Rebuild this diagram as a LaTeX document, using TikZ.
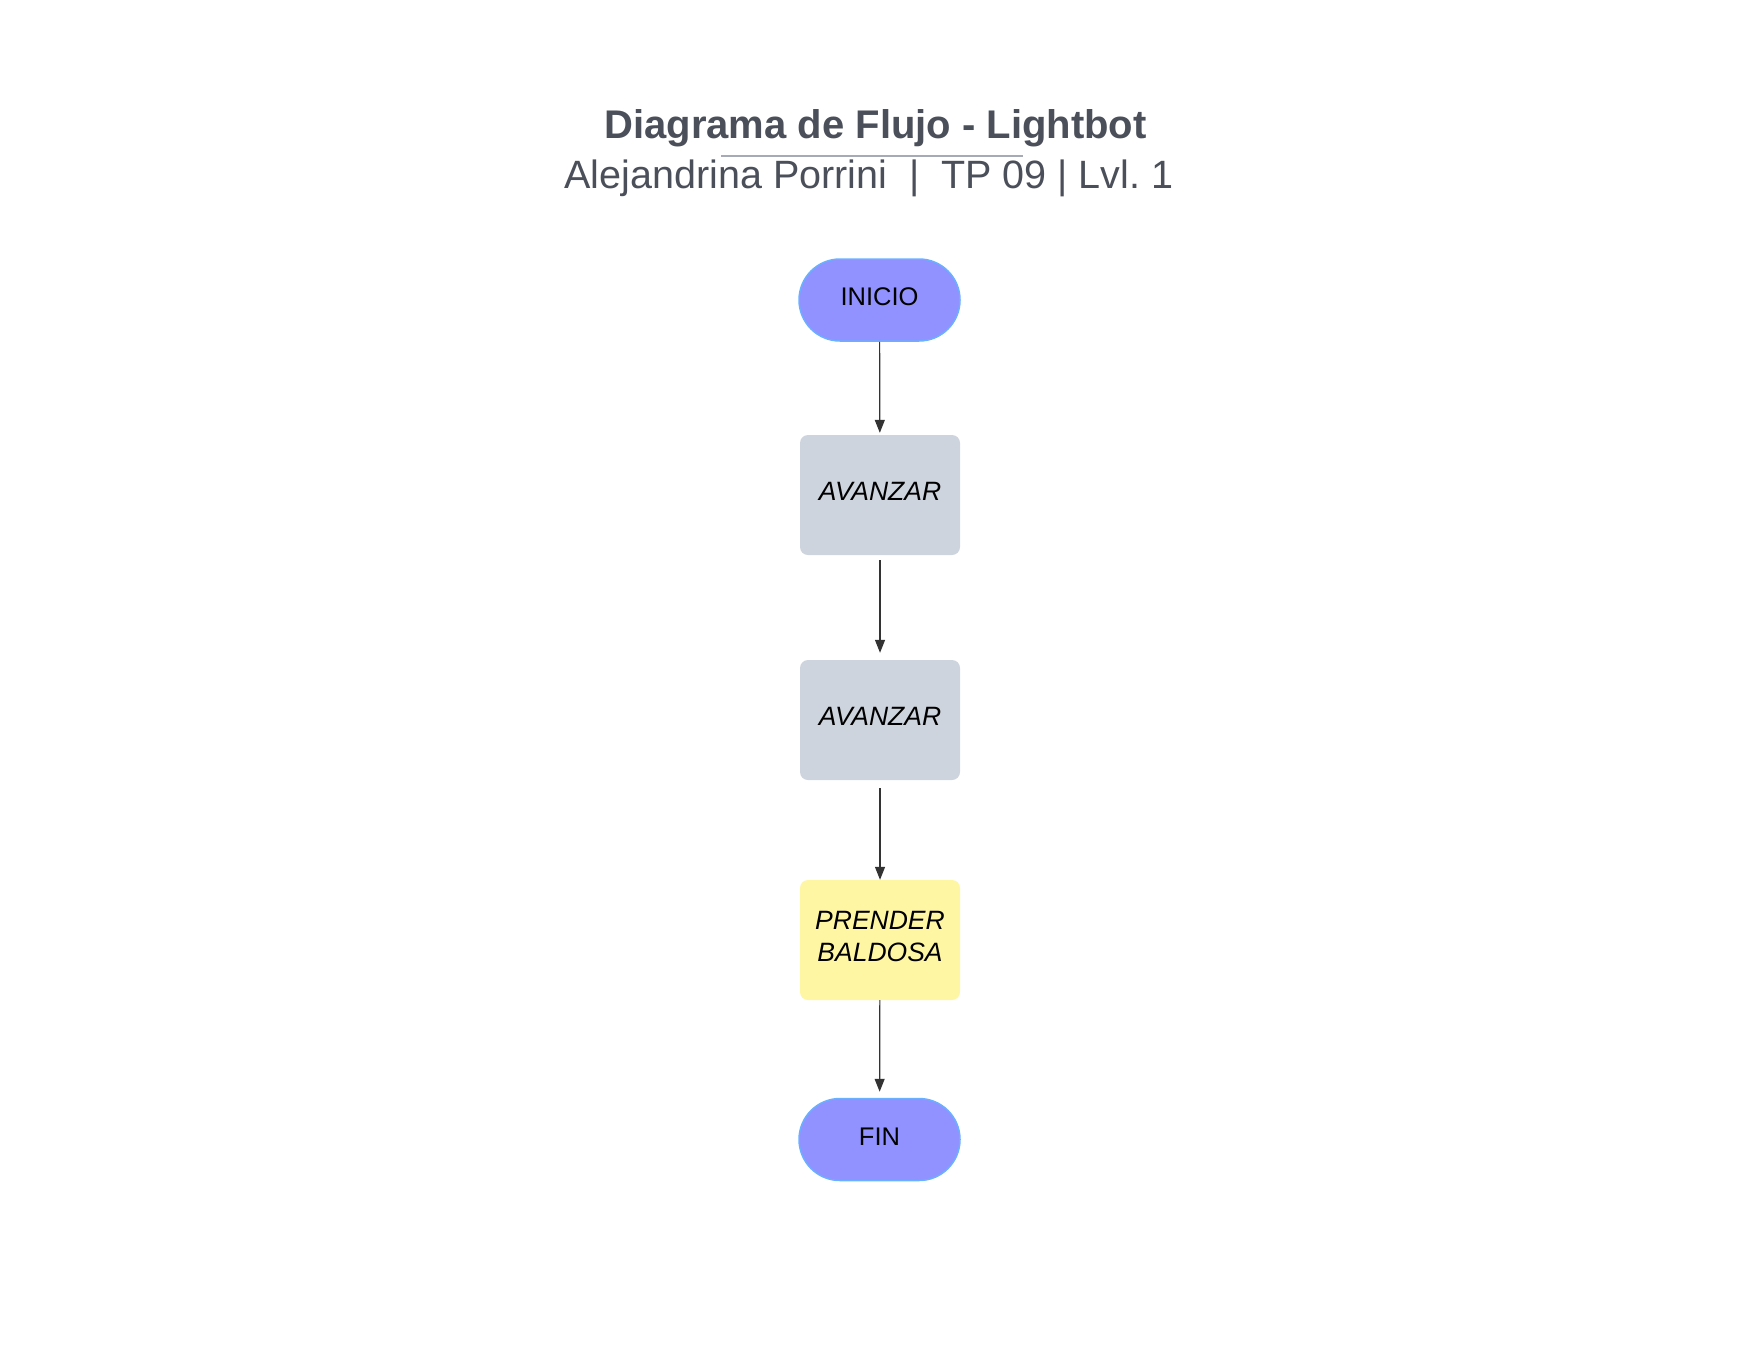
\documentclass[tikz,border=0pt]{standalone}
\usepackage{fontspec}
\setmainfont{Liberation Sans}
\usetikzlibrary{arrows.meta}
\definecolor{txtgray}{RGB}{74,79,89}
\definecolor{rulegray}{RGB}{165,170,182}
\definecolor{termfill}{RGB}{145,145,255}
\definecolor{termdraw}{RGB}{106,176,255}
\definecolor{procfill}{RGB}{206,212,221}
\definecolor{hlfill}{RGB}{255,246,163}
\definecolor{arrowcol}{RGB}{51,51,51}
\tikzset{
  term/.style={draw=termdraw, line width=1.5pt, fill=termfill, rounded corners=41pt,
    minimum width=161pt, minimum height=82pt, inner sep=0pt},
  termtext/.style={font=\fontsize{25.5}{28}\selectfont, text=black, inner sep=0pt},
  proc/.style={fill=procfill, rounded corners=8pt, minimum width=160pt, minimum height=120pt,
    inner sep=0pt},
  proctext/.style={font=\fontsize{26.5}{32}\selectfont\itshape, text=black, align=center, inner sep=0pt},
  hl/.style={proc, fill=hlfill},
  flow/.style={draw=arrowcol, line width=1.2pt, -{Triangle[length=13pt,width=10pt]}}
}
\begin{document}
\begin{tikzpicture}[x=1pt,y=-1pt]
\useasboundingbox (0,0) rectangle (1760,1360);
\node[font=\fontsize{40}{44}\selectfont\bfseries, text=txtgray, anchor=base] (title) at (875.5,138) {Diagrama de Flujo - Lightbot};
\node[font=\fontsize{39.5}{44}\selectfont, text=txtgray, anchor=base] (sub) at (869,188) {Alejandrina Porrini \ | \ TP 09 | Lvl.\ 1};
\coordinate (rl) at (721,156);
\coordinate (rr) at (1023,156);
\draw[rulegray, line width=1.2pt] (rl) -- (rr);
\node[term] (inicio) at (879.5,300) {};
\node[termtext] (inicioT) at (879.5,297) {INICIO};
\node[proc] (av1) at (880,495) {};
\node[proctext] (av1T) at (880,491.5) {AVANZAR};
\node[proc] (av2) at (880,720) {};
\node[proctext] (av2T) at (880,716.5) {AVANZAR};
\node[hl] (pb) at (880,940) {};
\node[proctext] (pbT) at (880,936.5) {PRENDER\\BALDOSA};
\node[term] (fin) at (879.5,1139.5) {};
\node[termtext] (finT) at (879.5,1137) {FIN};
\draw[flow, shorten >=2pt] (inicio) -- (av1);
\draw[flow, shorten <=5pt, shorten >=7pt] (av1) -- (av2);
\draw[flow, shorten <=8pt] (av2) -- (pb);
\draw[flow, shorten >=6pt] (pb) -- (fin);
\end{tikzpicture}
\end{document}
